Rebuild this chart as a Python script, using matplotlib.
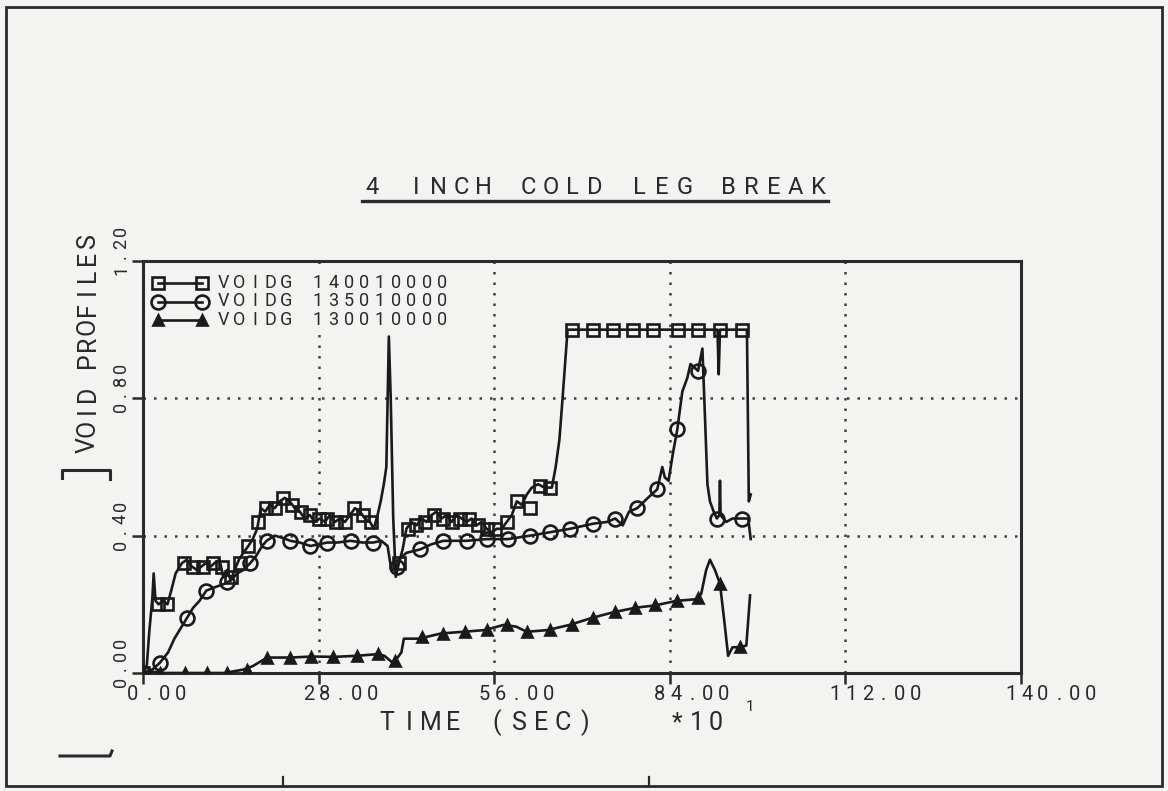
import matplotlib
matplotlib.use("Agg")
import matplotlib.pyplot as plt
from matplotlib.lines import Line2D
from matplotlib.patches import Rectangle
from matplotlib.transforms import Affine2D, offset_copy, blended_transform_factory

# void fraction histories, time in units of 10 s
t140 = [0, 0.6, 1.0, 1.5, 1.7, 2.0, 2.5, 3.2, 3.9, 4.5,
        5.2, 6.2, 7.0, 7.8, 8.6, 9.3, 10.0, 10.8, 11.4, 12.2,
        12.8, 13.4, 14.0, 14.6, 15.3, 16.0, 16.8, 17.5, 18.2, 18.8,
        19.5, 20.2, 21.0, 21.8, 22.6, 23.4, 24.2, 25.0, 25.8, 26.6,
        27.4, 28.2, 29.0, 29.8, 30.6, 31.4, 32.2, 33.0, 33.8, 34.6,
        35.4, 36.2, 36.8, 37.4, 37.9, 38.4, 38.8, 39.2, 39.5, 39.9,
        40.3, 40.8, 41.4, 42.0, 42.8, 43.6, 44.4, 45.2, 46.0, 46.8,
        47.6, 48.4, 49.2, 50.0, 50.8, 51.6, 52.4, 53.2, 54.0, 54.8,
        55.6, 56.4, 57.2, 58.0, 58.8, 59.6, 60.4, 61.2, 62.0, 63.0,
        64.0, 65.2, 65.8, 66.4, 66.9, 67.3, 67.7, 91.6, 91.8, 92.0,
        96.3, 96.6, 96.9]
v140 = [0, 0.02, 0.12, 0.22, 0.29, 0.21, 0.20, 0.21, 0.20, 0.24,
        0.29, 0.32, 0.33, 0.31, 0.30, 0.31, 0.32, 0.31, 0.32, 0.33,
        0.28, 0.30, 0.27, 0.30, 0.33, 0.35, 0.37, 0.39, 0.42, 0.48,
        0.47, 0.49, 0.48, 0.50, 0.51, 0.50, 0.48, 0.47, 0.45, 0.46,
        0.44, 0.45, 0.44, 0.46, 0.44, 0.45, 0.44, 0.46, 0.48, 0.47,
        0.45, 0.44, 0.42, 0.46, 0.50, 0.55, 0.60, 0.98, 0.80, 0.45,
        0.28, 0.32, 0.36, 0.42, 0.44, 0.43, 0.45, 0.44, 0.46, 0.47,
        0.45, 0.46, 0.44, 0.46, 0.45, 0.44, 0.45, 0.43, 0.44, 0.42,
        0.41, 0.42, 0.42, 0.44, 0.46, 0.50, 0.49, 0.52, 0.54, 0.55,
        0.54, 0.54, 0.60, 0.68, 0.80, 0.90, 1.00, 1.00, 0.87, 1.00,
        1.00, 0.50, 0.52]
t140_mark = [0, 2.4, 3.8, 6.5, 8.0, 9.6, 11.2, 12.6, 14.0, 15.4,
             16.8, 18.4, 19.6, 21.0, 22.4, 23.8, 25.2, 26.6, 28.0, 29.4,
             30.8, 32.2, 33.6, 35.0, 36.4, 40.8, 42.2, 43.6, 45.0, 46.4,
             47.8, 49.2, 50.6, 52.0, 53.4, 54.8, 56.2, 58.0, 59.6, 61.7,
             63.3, 64.9, 68.4, 71.8, 75.0, 78.1, 81.3, 85.3, 88.5, 92.0,
             95.5]
v140_mark = [0, 0.20, 0.20, 0.32, 0.31, 0.31, 0.32, 0.31, 0.28, 0.32,
             0.37, 0.44, 0.48, 0.48, 0.51, 0.49, 0.47, 0.46, 0.45, 0.45,
             0.44, 0.44, 0.48, 0.46, 0.44, 0.32, 0.42, 0.43, 0.44, 0.46,
             0.45, 0.44, 0.45, 0.45, 0.43, 0.42, 0.42, 0.44, 0.50, 0.48,
             0.545, 0.54, 1.0, 1.0, 1.0, 1.0, 1.0, 1.0, 1.0, 1.0,
             1.0]

t135 = [0, 1.5, 2.7, 4.0, 5.0, 6.0, 7.0, 8.0, 9.0, 10.1,
        11.5, 13.0, 14.0, 15.0, 16.0, 17.1, 18.0, 19.0, 19.7, 21.0,
        22.0, 23.5, 25.0, 26.7, 28.0, 29.4, 31.0, 33.1, 35.0, 36.7,
        38.0, 39.0, 39.6, 40.2, 40.8, 42.0, 44.2, 46.0, 47.9, 51.6,
        54.8, 58.2, 61.7, 64.9, 68.1, 71.8, 74.0, 75.3, 76.5, 77.5,
        78.8, 80.5, 82.0, 82.8, 83.2, 83.8, 84.5, 85.2, 86.0, 86.8,
        87.3, 88.5, 89.2, 89.6, 90.0, 90.4, 91.0, 91.5, 91.9, 92.0,
        92.1, 93.0, 94.0, 95.5, 96.5, 96.9]
v135 = [0, 0.01, 0.03, 0.06, 0.10, 0.13, 0.16, 0.19, 0.21, 0.24,
        0.25, 0.26, 0.27, 0.29, 0.30, 0.32, 0.34, 0.37, 0.385, 0.40,
        0.395, 0.385, 0.38, 0.37, 0.375, 0.38, 0.38, 0.385, 0.38, 0.38,
        0.385, 0.37, 0.30, 0.30, 0.33, 0.35, 0.36, 0.375, 0.385, 0.385,
        0.39, 0.39, 0.40, 0.41, 0.42, 0.435, 0.44, 0.45, 0.43, 0.47,
        0.48, 0.51, 0.535, 0.60, 0.57, 0.56, 0.64, 0.71, 0.82, 0.86,
        0.90, 0.88, 0.945, 0.75, 0.55, 0.50, 0.47, 0.45, 0.46, 0.56,
        0.46, 0.44, 0.45, 0.45, 0.45, 0.39]
t135_mark = [0, 2.7, 7.0, 10.1, 13.4, 17.1, 19.7, 23.5, 26.7, 29.4,
             33.1, 36.7, 40.5, 44.2, 47.9, 51.6, 54.8, 58.2, 61.7, 64.9,
             68.1, 71.8, 75.3, 78.8, 82.0, 85.2, 88.5, 91.5, 95.5]
v135_mark = [0, 0.03, 0.16, 0.24, 0.265, 0.32, 0.385, 0.385, 0.37, 0.38,
             0.385, 0.38, 0.31, 0.36, 0.385, 0.385, 0.39, 0.39, 0.40, 0.41,
             0.42, 0.435, 0.45, 0.48, 0.535, 0.71, 0.88, 0.45, 0.45]

t130 = [0, 1.0, 3.0, 6.0, 9.5, 13.0, 16.0, 17.5, 19.8, 23.5,
        27.0, 30.5, 34.0, 37.5, 38.5, 39.8, 40.6, 41.2, 41.6, 44.0,
        47.5, 51.0, 54.5, 57.5, 59.5, 61.2, 64.5, 68.0, 71.5, 75.0,
        78.5, 81.7, 85.0, 88.3, 89.0, 89.8, 90.4, 91.2, 92.0, 92.7,
        93.3, 94.0, 95.2, 96.2, 96.8]
v130 = [0, 0.005, 0.0, 0.0, 0.0, 0.0, 0.01, 0.02, 0.045, 0.045,
        0.048, 0.047, 0.05, 0.055, 0.05, 0.03, 0.045, 0.06, 0.10, 0.10,
        0.115, 0.12, 0.125, 0.14, 0.135, 0.12, 0.125, 0.14, 0.16, 0.177,
        0.19, 0.197, 0.21, 0.215, 0.23, 0.30, 0.33, 0.30, 0.26, 0.15,
        0.05, 0.075, 0.075, 0.08, 0.226]
t130_mark = [0, 2.7, 6.7, 10.2, 13.4, 16.6, 19.8, 23.4, 26.8, 30.3,
             34.1, 37.5, 40.2, 44.5, 47.8, 51.4, 54.9, 58.0, 61.2, 64.9,
             68.4, 71.8, 75.3, 78.5, 81.7, 85.2, 88.5, 92.0, 95.2]
v130_mark = [0, 0.0, 0.0, 0.0, 0.0, 0.01, 0.045, 0.045, 0.048, 0.047,
             0.05, 0.055, 0.035, 0.105, 0.115, 0.12, 0.125, 0.14, 0.12, 0.125,
             0.14, 0.16, 0.177, 0.19, 0.197, 0.21, 0.217, 0.26, 0.075]

series_names = ["VOIDG 140010000", "VOIDG 135010000", "VOIDG 130010000"]
x_ticks = [0, 28, 56, 84, 112, 140]
y_ticks = [0.0, 0.4, 0.8, 1.2]

BG = "#f3f3f1"
INK = "#2a2a2a"
PEN = "#1a1a1a"
FONT = "Roboto"

W, H = 1168, 791
fig = plt.figure(figsize=(W / 100, H / 100), dpi=100)
fig.patch.set_facecolor(BG)
# pixel coordinates measured from the top-left corner
pix = Affine2D().scale(1, -1).translate(0, H)

ax = fig.add_axes([143 / W, 1 - 673 / H, (1021 - 143) / W, (673 - 261) / H])
ax.set_facecolor(BG)
ax.set_xlim(0, 140)
ax.set_ylim(0, 1.2)
ax.set_xticks(x_ticks)
ax.set_yticks(y_ticks)
ax.tick_params(direction="out", length=8, width=1.8, color=INK,
               labelbottom=False, labelleft=False)
for s in ax.spines.values():
    s.set_linewidth(2.2)
    s.set_color(INK)
ax.grid(True, color="#404040", linewidth=1.8, linestyle=(0, (1, 3.2)))


def lettering(x, y, s, trans, pitch, size, start=0.0, rotation=0):
    # fixed-pitch plotter lettering, one cell per character
    for i, ch in enumerate(s):
        if ch == " ":
            continue
        step = start + i * pitch
        dx, dy = (0, step) if rotation else (step, 0)
        fig.text(x, y, ch, transform=offset_copy(trans, fig=fig, x=dx, y=dy, units="dots"),
                 rotation=rotation, ha="center", va="center", fontsize=size,
                 color=INK, family=FONT, fontweight="normal")


# legend backing hides the grid behind the key
ax.add_patch(Rectangle((146, 265), 292, 66, transform=pix, facecolor=BG,
                       edgecolor="none", zorder=1.8))

line_kw = dict(color=PEN, linewidth=1.9, zorder=3)
ax.plot(t140, v140, **line_kw)
ax.plot(t135, v135, **line_kw)
ax.plot(t130, v130, **line_kw)

styles = [dict(marker="s", markersize=9, markerfacecolor="none"),
          dict(marker="o", markersize=10, markerfacecolor="none"),
          dict(marker="^", markersize=7.5, markerfacecolor=PEN)]
marks = [(t140_mark, v140_mark), (t135_mark, v135_mark), (t130_mark, v130_mark)]
for (tm, vm), st in zip(marks, styles):
    ax.plot(tm, vm, linestyle="none", markeredgecolor=PEN, markeredgewidth=1.9,
            zorder=4, **st)

# key
for i, (name, st) in enumerate(zip(series_names, styles)):
    yk = 283 + i * 18.5
    fig.add_artist(Line2D([158, 202], [yk, yk], transform=pix, color=PEN,
                          linewidth=1.9, markeredgecolor=PEN, markeredgewidth=1.9, **st))
    lettering(224, yk, name, pix, 15.6, 13)

# tick labels
xlab_tr = blended_transform_factory(ax.transData, pix)
for v in x_ticks:
    lettering(v, 695, f"{v:.2f}", xlab_tr, 16, 14.5, start=-10)
ylab_tr = blended_transform_factory(pix, ax.transData)
for v in y_ticks:
    lettering(121, v, f"{v:.2f}", ylab_tr, 13, 13, start=-9, rotation=90)

# titles and axis labels
lettering(372, 187, "4 INCH COLD LEG BREAK", pix, 22.3, 17)
fig.add_artist(Line2D([362, 828], [201, 201], transform=pix, color=INK, linewidth=2.4))
lettering(387, 723, "TIME (SEC)", pix, 22, 18)
lettering(677, 723, "*10", pix, 19.5, 18)
lettering(750, 707, "1", pix, 10, 11)
lettering(88, 445, "VOID PROFILES", pix, 17, 18, rotation=90)

# sheet marks
fig.add_artist(Line2D([62, 62, 110, 110], [478, 470, 470, 479], transform=pix,
                      color=INK, linewidth=2.2))
fig.add_artist(Line2D([60, 110, 112], [756, 756, 751], transform=pix,
                      color=INK, linewidth=2.2))
for xm in [283, 649]:
    fig.add_artist(Line2D([xm, xm], [777, 786], transform=pix, color=INK, linewidth=1.6))
fig.add_artist(Rectangle((6, 7), 1156, 779, transform=pix, fill=False,
                         edgecolor=INK, linewidth=2.0))

fig.savefig("out.png", dpi=100, facecolor=BG)
